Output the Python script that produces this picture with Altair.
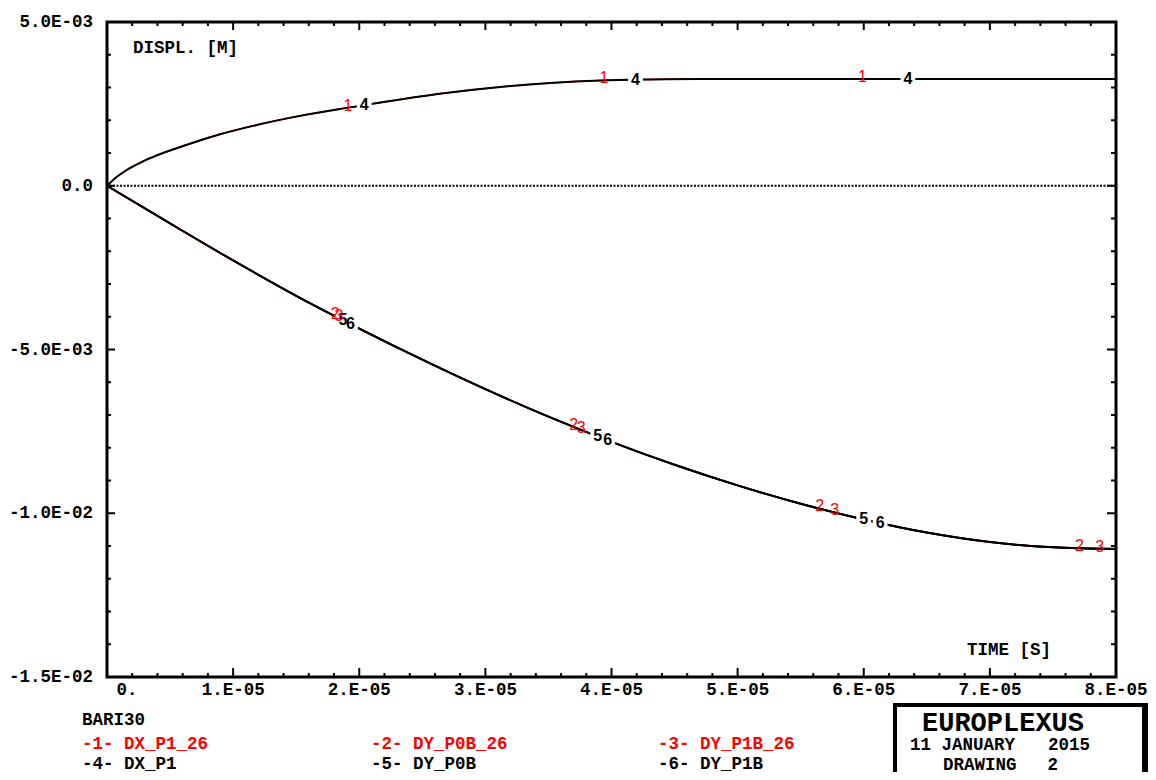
import altair as alt
import pandas as pd
import numpy as np

# ---------------- data (time in 1e-5 s, displacement in 1e-3 m) ----------------
tA = [0, 0.079, 0.159, 0.278, 0.397, 0.634, 0.896, 1.158, 1.531, 1.927, 2.324,
      2.720, 3.117, 3.513, 3.910, 4.306, 4.703, 6.0, 8.0]
vA = [0, 0.274, 0.488, 0.732, 0.930, 1.250, 1.570, 1.829, 2.134, 2.393, 2.637,
      2.850, 3.018, 3.140, 3.216, 3.247, 3.262, 3.262, 3.262]

tB = [0, 0.5, 1.0, 1.5, 2.0, 2.5, 3.0, 3.5, 4.0, 4.5, 5.0, 5.5, 6.0, 6.5, 7.0, 7.5, 8.0]
vB = [0, -1.15, -2.28, -3.36, -4.36, -5.31, -6.21, -7.05, -7.82, -8.52, -9.15,
      -9.71, -10.19, -10.59, -10.88, -11.04, -11.09]

series_ids = ["1", "2", "3", "4", "5", "6"]
series_names = ["DX_P1_26", "DY_P0B_26", "DY_P1B_26", "DX_P1", "DY_P0B", "DY_P1B"]
series_curve = ["A", "B", "B", "A", "B", "B"]
series_color = ["#ff0000", "#ff0000", "#ff0000", "#000000", "#000000", "#000000"]

# label positions along curves (time, 1e-5 s)
label_t = {
    "1": [1.91, 3.94, 5.99],
    "2": [1.81, 3.70, 5.65, 7.71],
    "3": [1.84, 3.76, 5.77, 7.87],
    "4": [2.04, 4.19, 6.35],
    "5": [1.87, 3.89, 6.00],
    "6": [1.93, 3.97, 6.13],
}

x_tick_vals = [0, 1, 2, 3, 4, 5, 6, 7, 8]
x_tick_labels = ["0.", "1.E-05", "2.E-05", "3.E-05", "4.E-05", "5.E-05", "6.E-05", "7.E-05", "8.E-05"]
y_tick_vals = [5, 0, -5, -10, -15]
y_tick_labels = ["5.0E-03", "0.0", "-5.0E-03", "-1.0E-02", "-1.5E-02"]

# ---------------- build tables ----------------
curves = {"A": (tA, vA), "B": (tB, vB)}
rows = []
for sid, col, cv in zip(series_ids, series_color, series_curve):
    tt, vv = curves[cv]
    for t, v in zip(tt, vv):
        rows.append({"s": sid, "t": t * 1e-5, "v": v * 1e-3, "c": col})
lines_df = pd.DataFrame(rows)

lab_rows = []
for sid, col, cv in zip(series_ids, series_color, series_curve):
    tt, vv = curves[cv]
    for t in label_t[sid]:
        lab_rows.append({"s": sid, "t": t * 1e-5, "v": float(np.interp(t, tt, vv)) * 1e-3, "c": col})
lab_df = pd.DataFrame(lab_rows)

W, H = 1009, 655
X = alt.X("t:Q", scale=alt.Scale(domain=[0, 8e-5], nice=False, zero=False), axis=None)
Y = alt.Y("v:Q", scale=alt.Scale(domain=[-0.015, 0.005], nice=False, zero=False), axis=None)

red_lines = alt.Chart(lines_df[lines_df.c == "#ff0000"]).mark_line(
    color="#ff0000", strokeWidth=1.5, interpolate="monotone").encode(x=X, y=Y, detail="s:N")
black_lines = alt.Chart(lines_df[lines_df.c == "#000000"]).mark_line(
    color="#000000", strokeWidth=2, interpolate="monotone").encode(x=X, y=Y, detail="s:N")

zero_df = pd.DataFrame({"v": [0.0]})
zero_line = alt.Chart(zero_df).mark_rule(color="black", strokeWidth=2, strokeDash=[2, 1.5]).encode(y=Y)

black_lab = lab_df[lab_df.c == "#000000"]
red_lab = lab_df[lab_df.c == "#ff0000"]
lab_bg = alt.Chart(black_lab).mark_square(color="white", opacity=1, size=220).encode(x=X, y=Y)
lab_black = alt.Chart(black_lab).mark_text(
    font="Liberation Sans", fontSize=16, fontWeight="bold", color="black",
    baseline="middle", align="center"
).encode(x=X, y=Y, text="s:N")
lab_red = alt.Chart(red_lab).mark_text(
    font="Liberation Sans", fontSize=16, color="#ff0000", baseline="middle", align="center", dy=-2
).encode(x=X, y=Y, text="s:N")

# ---------------- ticks (inward) ----------------
xt = pd.DataFrame({"t": np.round(np.arange(0, 8.01, 0.2), 3) * 1e-5})
xt["major"] = [abs(round(v / 1e-5) - v / 1e-5) < 1e-6 for v in xt.t]
yt = pd.DataFrame({"v": np.round(np.arange(-15, 5.01, 1.0), 3) * 1e-3})
yt["major"] = [abs(round(v / 5e-3) - v / 5e-3) < 1e-6 for v in yt.v]

def xticks(df, y0, y1):
    return alt.Chart(df).mark_rule(color="black", strokeWidth=2).encode(
        x=X, y=alt.value(y0), y2=alt.value(y1))

def yticks(df, x0, x1):
    return alt.Chart(df).mark_rule(color="black", strokeWidth=2).encode(
        y=Y, x=alt.value(x0), x2=alt.value(x1))

tick_layers = [
    xticks(xt[~xt.major], H, H - 4), xticks(xt[xt.major], H, H - 9),
    xticks(xt[~xt.major], 0, 4), xticks(xt[xt.major], 0, 8),
    yticks(yt[~yt.major], 0, 4), yticks(yt[yt.major], 0, 8),
    yticks(yt[~yt.major], W, W - 5), yticks(yt[yt.major], W, W - 9),
]

MONO = "Liberation Mono"

xl_df = pd.DataFrame({"t": [v * 1e-5 for v in x_tick_vals], "lab": x_tick_labels})
x_labels = alt.Chart(xl_df[xl_df.t > 0]).mark_text(
    font=MONO, fontSize=17.5, fontWeight="bold", baseline="middle", align="center", color="black"
).encode(x=X, y=alt.value(668), text="lab:N")
x_label0 = alt.Chart(xl_df[xl_df.t == 0]).mark_text(
    font=MONO, fontSize=17.5, fontWeight="bold", baseline="middle", align="center", color="black", dx=20
).encode(x=X, y=alt.value(668), text="lab:N")

yl_df = pd.DataFrame({"v": [v * 1e-3 for v in y_tick_vals], "lab": y_tick_labels})
y_labels = alt.Chart(yl_df).mark_text(
    font=MONO, fontSize=17.5, fontWeight="bold", baseline="middle", align="right", color="black"
).encode(y=Y, x=alt.value(-14), text="lab:N")

one = pd.DataFrame({"k": [0]})

def txt(s, x, y, color="black", size=17.5, align="left", weight="bold"):
    return alt.Chart(one).mark_text(
        text=s, font=MONO, fontSize=size, fontWeight=weight, color=color,
        align=align, baseline="middle"
    ).encode(x=alt.value(x), y=alt.value(y))

texts = [
    txt("DISPL. [M]", 26, 26),
    txt("TIME [S]", 860, 628),
    txt("BARI30", -25, 698),
    txt("-1- " + series_names[0], -25, 722, "#ff0000"),
    txt("-2- " + series_names[1], 264, 722, "#ff0000"),
    txt("-3- " + series_names[2], 551, 722, "#ff0000"),
    txt("-4- " + series_names[3], -25, 742),
    txt("-5- " + series_names[4], 264, 742),
    txt("-6- " + series_names[5], 551, 742),
    txt("EUROPLEXUS", 896, 701, size=27, align="center"),
    txt("11 JANUARY", 803, 723),
    txt("2015", 983, 723, align="right"),
    txt("DRAWING", 836, 743),
    txt("2", 951, 743, align="right"),
]

box = alt.Chart(one).mark_rect(fill="white", fillOpacity=0, stroke="black", strokeWidth=4).encode(
    x=alt.value(788), x2=alt.value(1040), y=alt.value(683), y2=alt.value(800))
box_r = alt.Chart(one).mark_rule(color="black", strokeWidth=4).encode(
    x=alt.value(1037), y=alt.value(683), y2=alt.value(800))

chart = alt.layer(
    zero_line, red_lines, black_lines, lab_bg, lab_black, lab_red,
    *tick_layers, x_labels, x_label0, y_labels, *texts, box, box_r
).properties(
    width=W, height=H,
    autosize=alt.AutoSizeParams(type="none"),
    padding={"left": 99, "top": 14, "right": 32, "bottom": 95},
).configure_view(stroke="black", strokeWidth=3)

chart.save("out.html", embed_options={"renderer": "svg", "actions": False})
